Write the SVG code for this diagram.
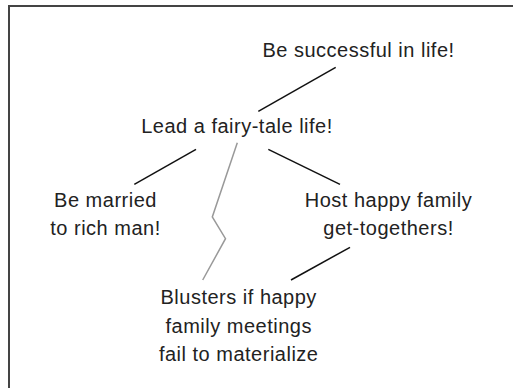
<svg xmlns="http://www.w3.org/2000/svg" width="513" height="388" viewBox="0 0 513 388">
<style>
text{font-family:"Liberation Sans",Arial,sans-serif;font-size:20px;letter-spacing:0.5px;fill:#222;text-anchor:middle}
.c{stroke:#111;stroke-width:1.5;fill:none}
.g{stroke:#999;stroke-width:1.5;fill:none}
</style>
<rect width="513" height="388" fill="#fff"/>
<path d="M9,388 V6 H513" fill="none" stroke="#444" stroke-width="2"/>
<g id="connectors">
<line class="c" x1="335.7" y1="67.3" x2="258.3" y2="111.3"/>
<line class="c" x1="196" y1="149.3" x2="134.3" y2="184.3"/>
<line class="c" x1="268.3" y1="149.3" x2="340" y2="184.3"/>
<line class="c" x1="350" y1="247.3" x2="291" y2="280"/>
<polyline class="g" points="237.3,142.7 212.3,217 225.5,238.7 202.7,280"/>
</g>
<g id="n1"><text x="358.5" y="57">Be successful in life!</text></g>
<g id="n2"><text x="237" y="132.7">Lead a fairy-tale life!</text></g>
<g id="n3"><text x="105.5" y="206.7">Be married</text><text x="105.5" y="235">to rich man!</text></g>
<g id="n4"><text x="388.5" y="206.7">Host happy family</text><text x="388.5" y="235">get-togethers!</text></g>
<g id="n5"><text x="238.7" y="304">Blusters if happy</text><text x="238.7" y="332.5">family meetings</text><text x="238.7" y="361">fail to materialize</text></g>
</svg>
